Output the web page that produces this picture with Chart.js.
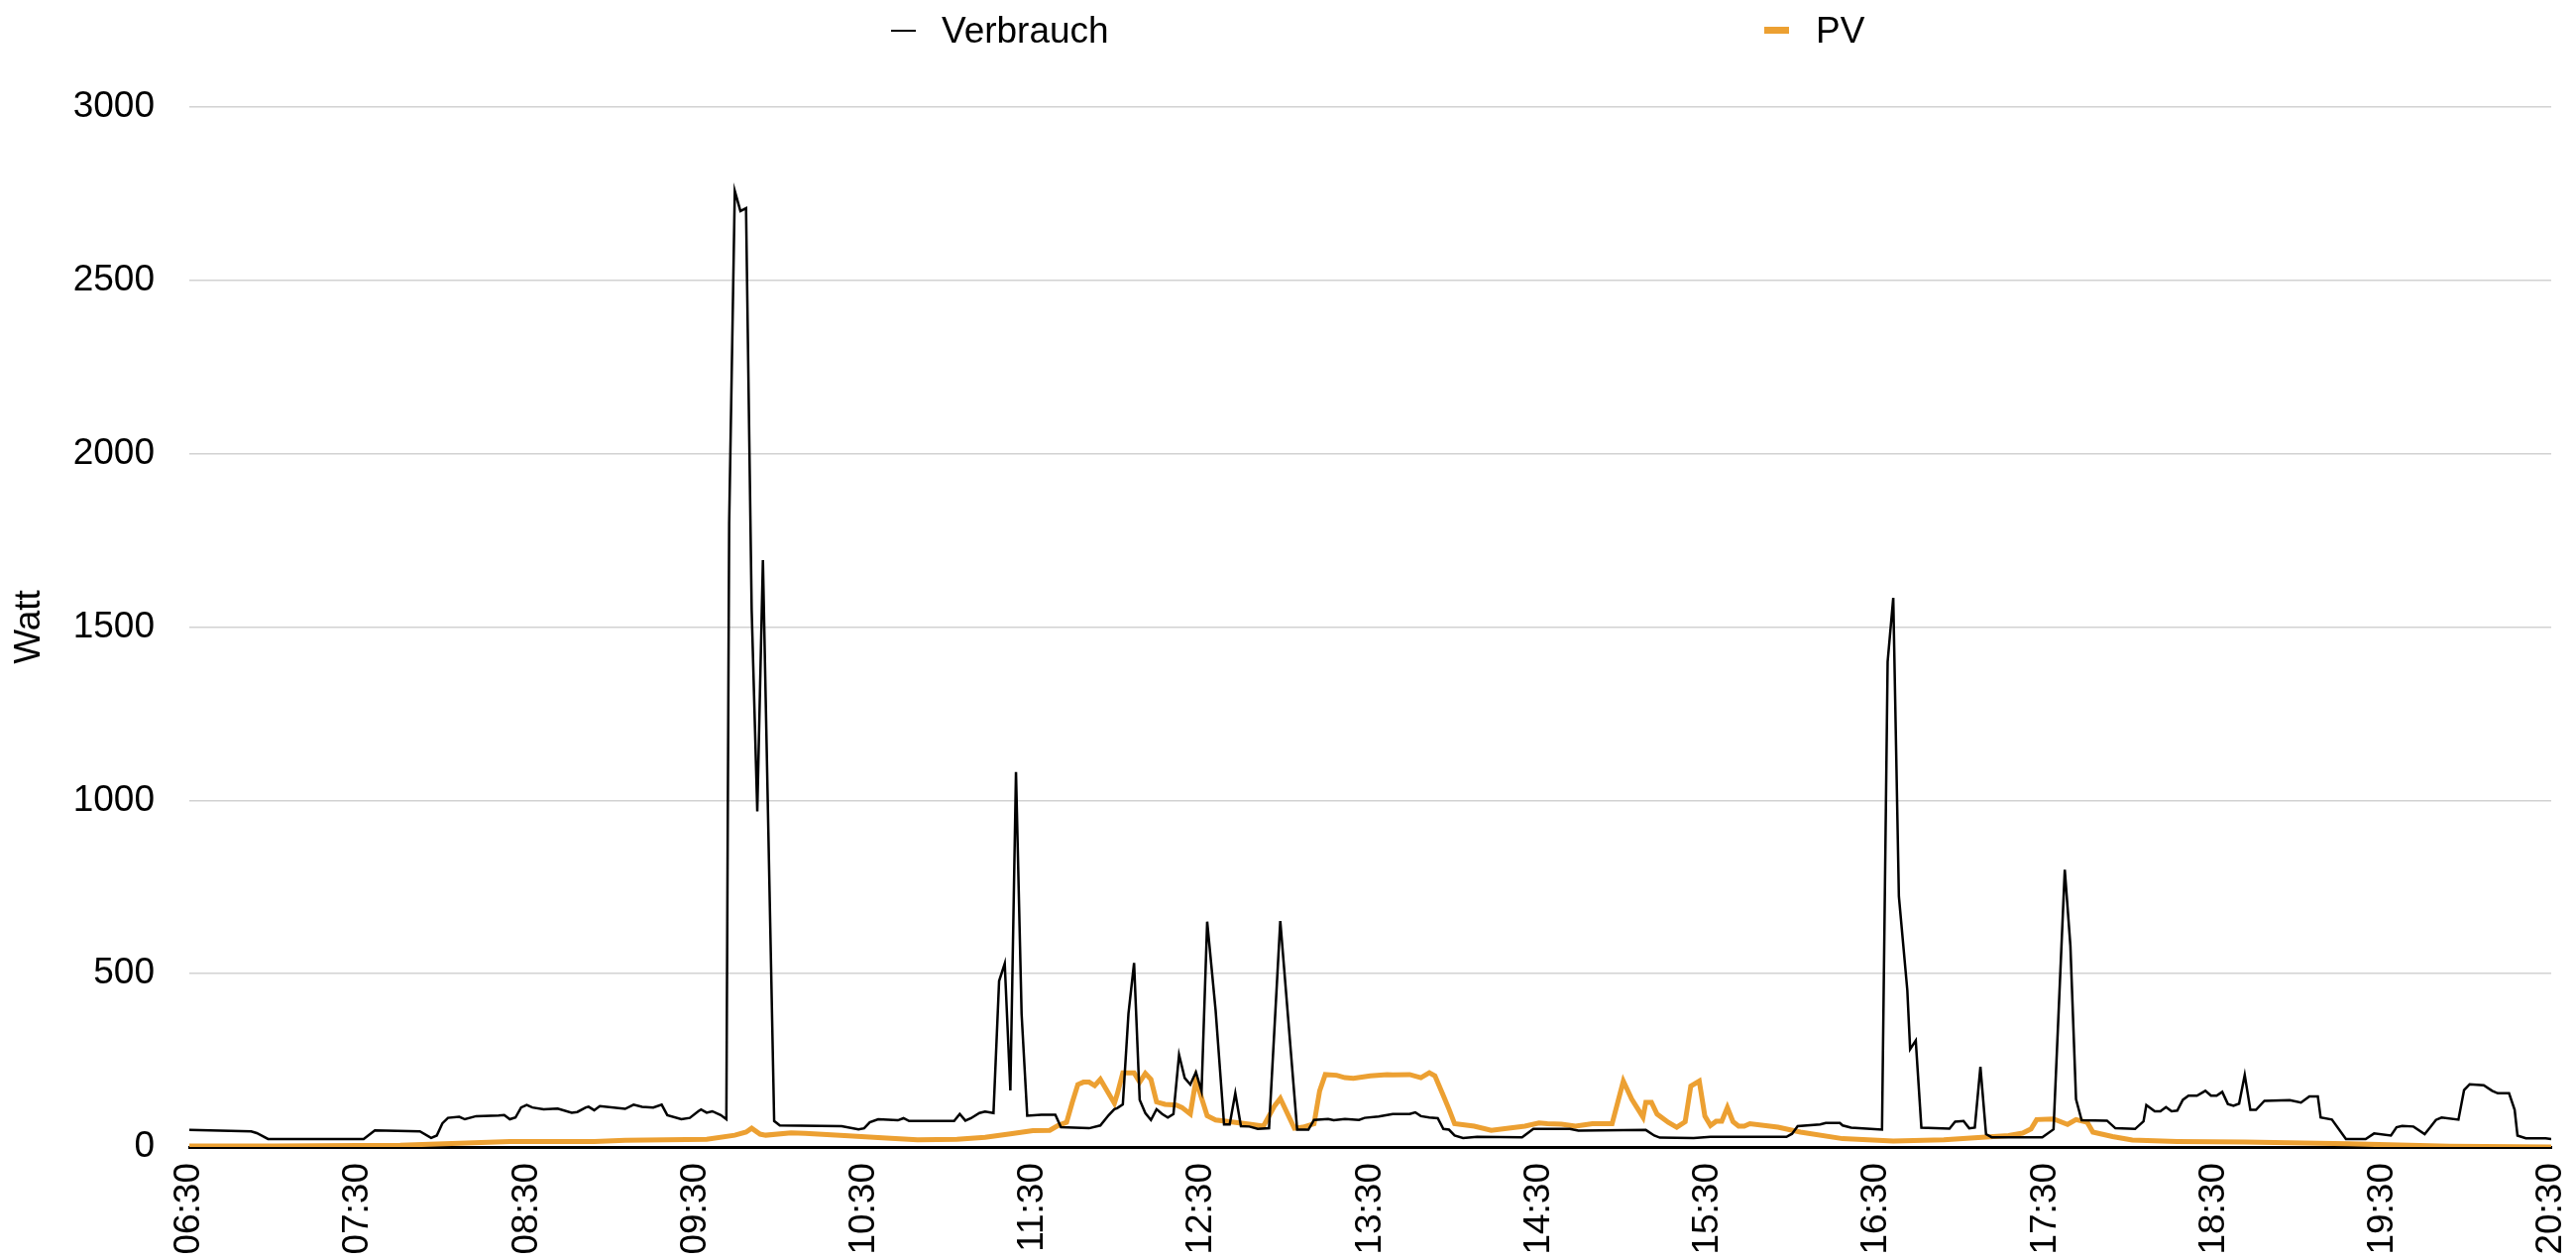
<!DOCTYPE html>
<html>
<head>
<meta charset="utf-8">
<title>Verbrauch / PV</title>
<script src="https://cdn.jsdelivr.net/npm/chart.js@4/dist/chart.umd.min.js"></script>
<style>
  body { margin: 0; background: #fff; }
  #wrap { position: relative; width: 2599px; height: 1271px; font-family: "Liberation Sans", Arial, Helvetica, sans-serif; }
  #chart { position: absolute; left: 0; top: 0; }
  .leg { position: absolute; top: 10px; height: 42px; line-height: 42px; font-size: 37px; color: #000; white-space: nowrap; }
  .leg i { position: absolute; display: block; }
</style>
</head>
<body>
<div id="wrap">
  <canvas id="chart" width="2599" height="1271"></canvas>
  <div class="leg" style="left:899px"><i style="left:0;top:20px;width:25px;height:2px;background:#000"></i><span style="margin-left:51px">Verbrauch</span></div>
  <div class="leg" style="left:1780px"><i style="left:0;top:17px;width:25px;height:7px;background:rgb(236,160,50)"></i><span style="margin-left:52px">PV</span></div>
</div>
<script>
// Verbrauch (Watt) – Messzeitpunkte und Werte
const verbrauchZeit = [
  '06:30','06:52','06:54','06:58','07:32','07:36','07:52','07:56','07:58','08:00',
  '08:02','08:06','08:08','08:12','08:20','08:22','08:24','08:26','08:28','08:30',
  '08:32','08:36','08:41','08:46','08:48','08:51','08:52','08:54','08:56','09:05',
  '09:08','09:11','09:15','09:18','09:20','09:25','09:28','09:31','09:32','09:34',
  '09:36','09:39','09:41','09:42','09:44','09:46','09:48','09:50','09:52','09:54',
  '09:58','10:00','10:22','10:28','10:30','10:32','10:35','10:42','10:44','10:46',
  '11:02','11:04','11:06','11:08','11:11','11:13','11:16','11:18','11:20','11:22',
  '11:24','11:26','11:28','11:33','11:38','11:40','11:50','11:54','11:57','11:59',
  '12:00','12:02','12:04','12:06','12:08','12:10','12:12','12:14','12:16','12:18',
  '12:20','12:22','12:24','12:26','12:28','12:30','12:32','12:35','12:38','12:40',
  '12:42','12:44','12:47','12:50','12:54','12:58','13:04','13:08','13:10','13:15',
  '13:17','13:21','13:26','13:28','13:33','13:38','13:44','13:46','13:48','13:51',
  '13:54','13:56','13:58','14:00','14:03','14:08','14:24','14:28','14:41','14:44',
  '15:08','15:11','15:13','15:25','15:31','15:58','16:00','16:02','16:10','16:12',
  '16:17','16:18','16:21','16:28','16:32','16:34','16:36','16:38','16:41','16:42',
  '16:44','16:46','16:56','16:58','17:01','17:03','17:05','17:07','17:09','17:11',
  '17:29','17:33','17:37','17:39','17:41','17:43','17:52','17:55','18:02','18:05',
  '18:06','18:09','18:11','18:13','18:15','18:17','18:19','18:21','18:24','18:27',
  '18:29','18:31','18:33','18:35','18:37','18:39','18:41','18:43','18:45','18:48',
  '18:57','19:01','19:04','19:07','19:08','19:12','19:17','19:24','19:27','19:33',
  '19:35','19:37','19:41','19:45','19:47','19:49','19:51','19:57','19:59','20:01',
  '20:06','20:09','20:11','20:15','20:17','20:18','20:21','20:28','20:30'
];
const verbrauchWatt = [
  49, 45, 40, 23, 23, 48, 45, 26, 33, 68,
  84, 87, 80, 89, 91, 92, 80, 85, 114, 121,
  114, 109, 111, 99, 101, 114, 116, 106, 118, 110,
  122, 116, 114, 122, 92, 80, 84, 103, 108, 99,
  103, 92, 80, 1800, 2758, 2700, 2708, 1550, 968, 1693,
  75, 62, 60, 51, 54, 71, 80, 77, 83, 75,
  75, 95, 76, 83, 98, 102, 98, 479, 529, 163,
  1082, 384, 90, 93, 93, 57, 54, 62, 92, 109,
  112, 123, 384, 531, 136, 98, 78, 109, 95, 85,
  95, 266, 199, 180, 216, 161, 650, 394, 65, 65,
  155, 60, 59, 52, 54, 652, 50, 50, 78, 81,
  77, 81, 78, 84, 88, 95, 95, 100, 89, 85,
  83, 52, 50, 33, 26, 29, 28, 52, 52, 47,
  49, 33, 27, 26, 29, 29, 38, 60, 65, 69,
  69, 62, 56, 52, 50, 1400, 1584, 723, 452, 282,
  307, 56, 53, 73, 75, 54, 56, 231, 37, 28,
  28, 51, 800, 580, 138, 77, 76, 54, 52, 74,
  121, 103, 103, 115, 103, 105, 136, 148, 148, 162,
  148, 148, 159, 124, 119, 125, 208, 107, 107, 133,
  135, 128, 146, 146, 85, 79, 23, 23, 39, 33,
  57, 61, 59, 37, 57, 78, 85, 79, 164, 181,
  178, 162, 155, 155, 107, 33, 25, 25, 23
];

// PV (Watt)
const pvZeit = [
  '06:30','07:00','07:45','08:06','08:24','08:54','09:05','09:34','09:44','09:48',
  '09:50','09:53','09:55','10:04','10:09','10:23','10:38','10:49','11:03','11:13',
  '11:22','11:30','11:36','11:39','11:42','11:44','11:46','11:48','11:50','11:52',
  '11:54','11:59','12:00','12:02','12:06','12:08','12:10','12:12','12:14','12:17',
  '12:21','12:23','12:26','12:28','12:32','12:35','12:40','12:47','12:52','12:56',
  '12:58','13:03','13:06','13:10','13:12','13:14','13:18','13:21','13:24','13:30',
  '13:36','13:38','13:44','13:48','13:51','13:53','13:56','13:58','14:00','14:07',
  '14:13','14:20','14:25','14:30','14:33','14:38','14:43','14:49','14:56','15:00',
  '15:03','15:07','15:08','15:10','15:12','15:16','15:19','15:22','15:24','15:27',
  '15:29','15:31','15:33','15:35','15:37','15:39','15:41','15:43','15:45','15:55',
  '16:03','16:18','16:36','16:54','17:17','17:22','17:25','17:27','17:33','17:38',
  '17:41','17:45','17:47','17:54','18:01','18:17','18:41','19:18','19:54','20:30'
];
const pvWatt = [
  3, 3, 5, 11, 16, 16, 19, 22, 34, 43,
  54, 37, 34, 41, 39, 33, 26, 21, 22, 28,
  38, 47, 48, 62, 71, 128, 180, 187, 187, 177,
  195, 126, 152, 214, 214, 187, 212, 195, 130, 123,
  121, 114, 95, 193, 90, 78, 73, 66, 60, 119,
  140, 54, 57, 67, 162, 209, 207, 200, 198, 205,
  209, 208, 209, 200, 214, 205, 148, 109, 67, 60,
  48, 55, 60, 69, 67, 66, 60, 67, 67, 190,
  138, 86, 129, 129, 95, 71, 57, 73, 176, 190,
  89, 62, 74, 74, 114, 73, 60, 60, 67, 57,
  43, 24, 17, 21, 33, 40, 52, 79, 81, 65,
  79, 71, 43, 30, 20, 16, 14, 9, 2, 0
];

const yTicks = [0, 500, 1000, 1500, 2000, 2500, 3000];

function toMin(t) {
  const [h, m] = t.split(':').map(Number);
  return h * 60 + m;
}
function fmt(v) {
  const h = Math.floor(v / 60), m = v % 60;
  return String(h).padStart(2, '0') + ':' + String(m).padStart(2, '0');
}
const pts = (zeit, werte) => zeit.map((t, i) => ({ x: toMin(t), y: werte[i] }));

const font = { family: '"Liberation Sans", Arial, Helvetica, sans-serif', size: 37 };

new Chart(document.getElementById('chart').getContext('2d'), {
  type: 'line',
  data: {
    datasets: [
      {
        label: 'Verbrauch',
        data: pts(verbrauchZeit, verbrauchWatt),
        borderColor: '#000',
        borderWidth: 2.5,
        pointRadius: 0,
        tension: 0,
        fill: false
      },
      {
        label: 'PV',
        data: pts(pvZeit, pvWatt),
        borderColor: 'rgb(236,160,50)',
        borderWidth: 5,
        pointRadius: 0,
        tension: 0,
        fill: false
      }
    ]
  },
  options: {
    responsive: false,
    animation: false,
    devicePixelRatio: 1,
    layout: { padding: { top: 108, right: 25, left: 0, bottom: 0 } },
    plugins: {
      legend: { display: false },
      tooltip: { enabled: false }
    },
    scales: {
      x: {
        type: 'linear',
        min: toMin('06:30'),
        max: toMin('20:30'),
        grid: { display: false, drawTicks: false },
        border: { display: true, color: '#000', width: 3 },
        ticks: {
          stepSize: 60,
          autoSkip: false,
          minRotation: 90,
          maxRotation: 90,
          padding: 16,
          color: '#000',
          font,
          callback: v => fmt(v)
        },
        afterFit: s => { s.height = 114; s.paddingLeft = 0; s.paddingRight = 0; }
      },
      y: {
        min: 0,
        max: 3000,
        afterBuildTicks: s => { s.ticks = yTicks.map(v => ({ value: v })); },
        grid: { color: '#d2d2d2', lineWidth: 1.5, drawTicks: false },
        border: { display: false },
        ticks: { padding: 35, color: '#000', font, callback: v => String(v) },
        title: { display: true, text: 'Watt', color: '#000', font, padding: { top: 8, bottom: 0 } },
        afterFit: s => { s.width = 191; }
      }
    }
  }
});
</script>
</body>
</html>
